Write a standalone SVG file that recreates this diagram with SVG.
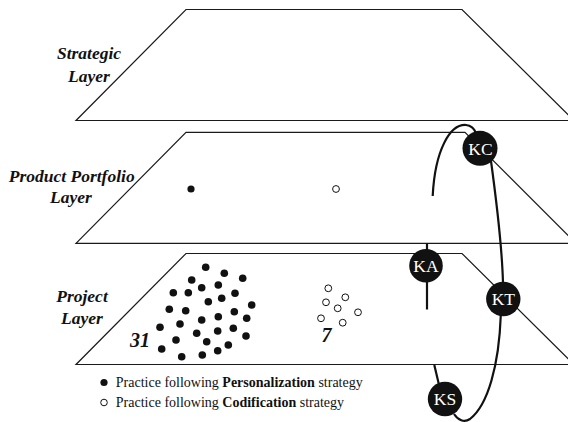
<svg xmlns="http://www.w3.org/2000/svg" width="568" height="422" viewBox="0 0 568 422">
<style>
.layer{fill:#fff;stroke:#1a1a1a;stroke-width:1.2;stroke-linejoin:miter}
text{font-family:'Liberation Serif','Times New Roman',Times,serif}
.lbl{font-weight:bold;font-style:italic;font-size:17.5px;fill:#111;text-anchor:middle}
.num{font-weight:bold;font-style:italic;font-size:20px;fill:#111}
.pd{fill:#111}
.cd{fill:#fff;stroke:#111;stroke-width:1}
.ring{fill:none;stroke:#111;stroke-width:2.2;stroke-linecap:butt}
.node circle{fill:#111}
.node text{font-size:17.5px;fill:#fff;text-anchor:middle}
.leg{font-size:14px;fill:#111}
</style>
<g id="strategic-layer">
<polygon class="layer" points="186,9.5 462,9.5 574,120.5 76,120.5"/>
<text class="lbl" x="89" y="58.5" font-family="Liberation Serif, serif">Strategic</text>
<text class="lbl" x="89" y="81.5" font-family="Liberation Serif, serif">Layer</text>
</g>
<g id="product-portfolio-layer">
<polygon class="layer" points="186,132.3 465,132.3 576,243.3 76,243.3"/>
<text class="lbl" x="71.7" y="182" font-family="Liberation Serif, serif">Product Portfolio</text>
<text class="lbl" x="71" y="203" font-family="Liberation Serif, serif">Layer</text>
<circle class="pd" cx="191" cy="189" r="3.6"/>
<circle class="cd" cx="336" cy="189" r="3.4"/>
</g>
<g id="project-layer">
<polygon class="layer" points="186,253.5 462,253.5 574,364.5 76,364.5"/>
<text class="lbl" x="82" y="301.5" font-family="Liberation Serif, serif">Project</text>
<text class="lbl" x="82" y="323.5" font-family="Liberation Serif, serif">Layer</text>
<text class="num" x="130" y="347" font-family="Liberation Serif, serif">31</text>
<text class="num" x="321.5" y="342" font-family="Liberation Serif, serif">7</text>
<g class="pd">
<circle cx="205.7" cy="267.3" r="3.8"/><circle cx="224.3" cy="273.3" r="3.8"/><circle cx="242.7" cy="278.3" r="3.8"/>
<circle cx="191.7" cy="280" r="3.8"/><circle cx="218.3" cy="285" r="3.8"/><circle cx="201.7" cy="287.7" r="3.8"/>
<circle cx="173.3" cy="292.7" r="3.8"/><circle cx="188.3" cy="292.7" r="3.8"/><circle cx="235" cy="293.3" r="3.8"/>
<circle cx="221.7" cy="298.3" r="3.8"/><circle cx="208.3" cy="301.7" r="3.8"/><circle cx="251.7" cy="305" r="3.8"/>
<circle cx="169.3" cy="309.3" r="3.8"/><circle cx="185.7" cy="310.7" r="3.8"/><circle cx="234.3" cy="311.7" r="3.8"/>
<circle cx="218.3" cy="316.7" r="3.8"/><circle cx="246.7" cy="318.3" r="3.8"/><circle cx="201.7" cy="320" r="3.8"/>
<circle cx="180" cy="324" r="3.8"/><circle cx="160" cy="327.3" r="3.8"/><circle cx="233.3" cy="328.3" r="3.8"/>
<circle cx="217.7" cy="331" r="3.8"/><circle cx="196.7" cy="333.3" r="3.8"/><circle cx="246" cy="336" r="3.8"/>
<circle cx="176" cy="340" r="3.8"/><circle cx="206.7" cy="341.7" r="3.8"/><circle cx="228.3" cy="345" r="3.8"/>
<circle cx="161.7" cy="349" r="3.8"/><circle cx="217.7" cy="350.7" r="3.8"/><circle cx="202.3" cy="355" r="3.8"/>
<circle cx="181.7" cy="356.7" r="3.8"/>
</g>
<g class="cd">
<circle cx="328.3" cy="288.3" r="3.4"/><circle cx="345.3" cy="297.3" r="3.4"/><circle cx="326" cy="302.3" r="3.4"/>
<circle cx="337.7" cy="308.3" r="3.4"/><circle cx="358" cy="312.3" r="3.4"/><circle cx="321" cy="318.3" r="3.4"/>
<circle cx="342.7" cy="322.7" r="3.4"/>
</g>
</g>
<g id="legend">
<circle class="pd" cx="104" cy="382.5" r="3.6"/>
<text class="leg" x="115.8" y="386.5" font-family="Liberation Serif, serif">Practice following <tspan font-weight="bold">Personalization</tspan> strategy</text>
<circle class="cd" cx="104" cy="402.5" r="3.3"/>
<text class="leg" x="115.8" y="406.5" font-family="Liberation Serif, serif">Practice following <tspan font-weight="bold">Codification</tspan> strategy</text>
</g>
<g id="connectors">
<path class="ring" d="M432.7,196 C435,150 450,124 466,125 C471,125.5 474,128 476,133"/>
<path class="ring" d="M491,161 C497,205 502,245 503,283"/>
<path class="ring" d="M500.8,315 C499,365 488,405 470,419 C464,423 458,420 454,414"/>
<path class="ring" d="M434.3,365 L438.8,384"/>
<path class="ring" d="M427,243 L427,251"/>
<path class="ring" d="M427,280 L427,309.5"/>
</g>
<g id="KC" class="node"><circle cx="480" cy="148.3" r="17.5"/><text x="480.5" y="154.5" font-family="Liberation Serif, serif">KC</text></g>
<g id="KA" class="node"><circle cx="426" cy="265.7" r="16.8"/><text x="426" y="271.8" font-family="Liberation Serif, serif">KA</text></g>
<g id="KT" class="node"><circle cx="503.3" cy="299" r="17.2"/><text x="503.3" y="305.2" font-family="Liberation Serif, serif">KT</text></g>
<g id="KS" class="node"><circle cx="445" cy="399" r="17.2"/><text x="445" y="405.2" font-family="Liberation Serif, serif">KS</text></g>
</svg>
